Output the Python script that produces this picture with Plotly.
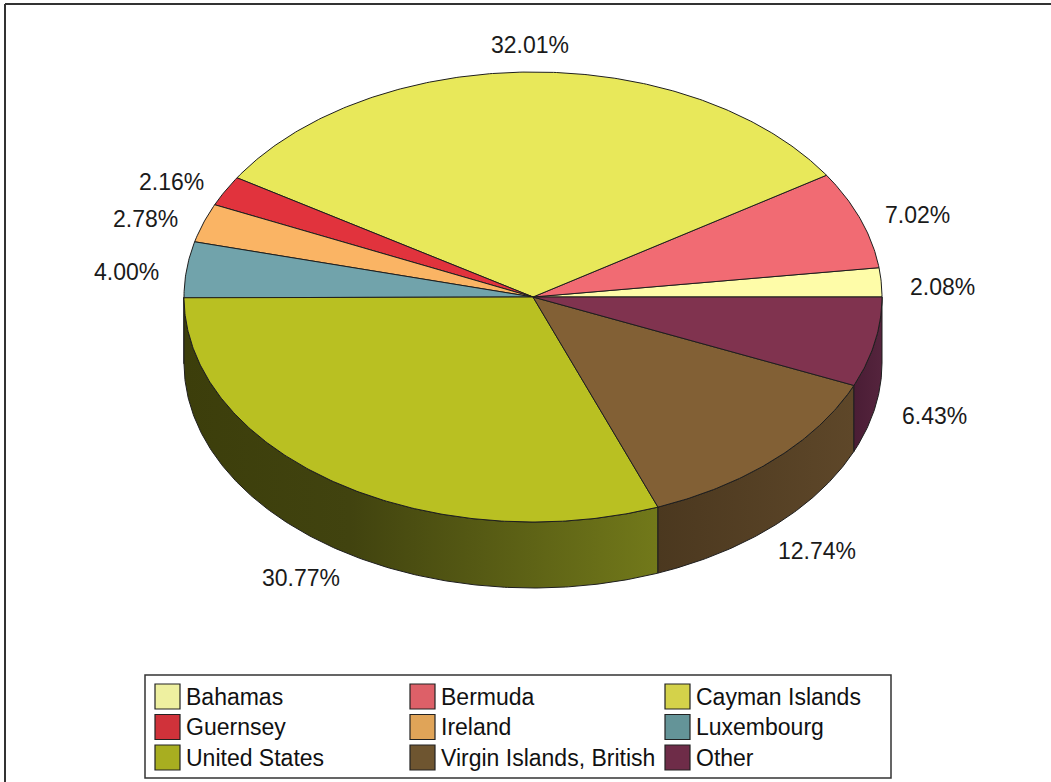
import numpy as np
import plotly.graph_objects as go

# ---- data -------------------------------------------------------------
countries = ["Bahamas", "Bermuda", "Cayman Islands", "Guernsey", "Ireland",
             "Luxembourg", "United States", "Virgin Islands, British", "Other"]
shares = [2.08, 7.02, 32.01, 2.16, 2.78, 4.00, 30.77, 12.74, 6.43]

# ---- styling ----------------------------------------------------------
top_colors = ["#FEFCA8", "#F16B73", "#E8E85A", "#E1333D", "#FAB464",
              "#71A3AB", "#B9C022", "#826035", "#80334F"]
legend_colors = ["#EEF0A0", "#DD6068", "#D4D24A", "#D0323A", "#E0A458",
                 "#649498", "#A8AE20", "#6E5530", "#6E2C48"]
side_scales = {
    6: [[0, "#3c3e0b"], [0.35, "#41430f"], [1, "#72791a"]],
    7: [[0, "#4b381f"], [1, "#5e4729"]],
    8: [[0, "#4a1d35"], [1, "#55243d"]],
}

W, H = 1051, 782
cx, cy = 533, 297          # pie centre (pixels)
rx, ry = 349, 225          # top ellipse radii
depth = 66                 # thickness of the pie
lrx, lry = 410, 259        # label ellipse
FONT = "Liberation Sans, Arial, sans-serif"
FSIZE = 23
EDGE = "#1e1e1e"

total = sum(shares)
bounds = np.concatenate([[0], np.cumsum(shares)]) / total * 360.0


def arc(a0, a1, dy=0.0):
    n = max(6, int(abs(a1 - a0) * 2))
    t = np.radians(np.linspace(a0, a1, n))
    return cx + rx * np.cos(t), cy - ry * np.sin(t) + dy


fig = go.Figure()

# side walls (only the front half of the cylinder is visible)
for i in range(len(shares)):
    a0, a1 = max(bounds[i], 180.0), min(bounds[i + 1], 360.0)
    if a1 <= a0:
        continue
    xt, yt = arc(a0, a1)
    xb, yb = arc(a1, a0, depth)
    xs = np.concatenate([xt, xb, xt[:1]])
    ys = np.concatenate([yt, yb, yt[:1]])
    fig.add_trace(go.Scatter(
        x=xs, y=ys, mode="lines", fill="toself",
        fillgradient=dict(type="horizontal",
                          colorscale=side_scales.get(i, [[0, "#444"], [1, "#555"]])),
        line=dict(color=EDGE, width=1), hoverinfo="skip", showlegend=False))

# top faces
for i in range(len(shares)):
    xa, ya = arc(bounds[i], bounds[i + 1])
    xs = np.concatenate([[cx], xa, [cx]])
    ys = np.concatenate([[cy], ya, [cy]])
    fig.add_trace(go.Scatter(
        x=xs, y=ys, mode="lines", fill="toself", fillcolor=top_colors[i],
        line=dict(color=EDGE, width=1), hoverinfo="skip", showlegend=False))

# percentage labels
for i, v in enumerate(shares):
    mid = np.radians((bounds[i] + bounds[i + 1]) / 2)
    s = np.sin(mid)
    lx = cx + lrx * np.cos(mid)
    ly = cy - lry * s + (depth + 1 if s < 0 else 7)
    fig.add_annotation(x=lx, y=ly, text=f"{v:.2f}%", showarrow=False,
                       xanchor="center", yanchor="middle",
                       font=dict(family=FONT, size=FSIZE, color="#1a1a1a"))

# legend box
lg_x0, lg_y0, lg_x1, lg_y1 = 145, 675, 891, 778
fig.add_shape(type="rect", x0=lg_x0, y0=lg_y0, x1=lg_x1, y1=lg_y1,
              line=dict(color="#333333", width=1.5), fillcolor="white", layer="above")
col_w, row_h, sw = 255, 30.5, 25
for i, name in enumerate(countries):
    r, c = divmod(i, 3)
    x0 = 155 + c * col_w
    yc = 696.5 + r * row_h
    fig.add_shape(type="rect", x0=x0, x1=x0 + sw, y0=yc - sw / 2, y1=yc + sw / 2,
                  fillcolor=legend_colors[i], line=dict(color="#222222", width=1.2),
                  layer="above")
    fig.add_annotation(x=x0 + sw + 4, y=yc, text=name, showarrow=False,
                       xanchor="left", yanchor="middle",
                       font=dict(family=FONT, size=FSIZE, color="#111111"))

# chart frame (top and left edges)
fig.add_shape(type="line", x0=5, x1=W, y0=4, y1=4, line=dict(color="#333333", width=2))
fig.add_shape(type="line", x0=5, x1=5, y0=4, y1=H, line=dict(color="#333333", width=2))

fig.update_layout(
    width=W, height=H, margin=dict(l=0, r=0, t=0, b=0),
    paper_bgcolor="white", plot_bgcolor="white", showlegend=False,
    xaxis=dict(range=[0, W], visible=False, fixedrange=True),
    yaxis=dict(range=[H, 0], visible=False, fixedrange=True),
)

fig.write_html("out.html")
